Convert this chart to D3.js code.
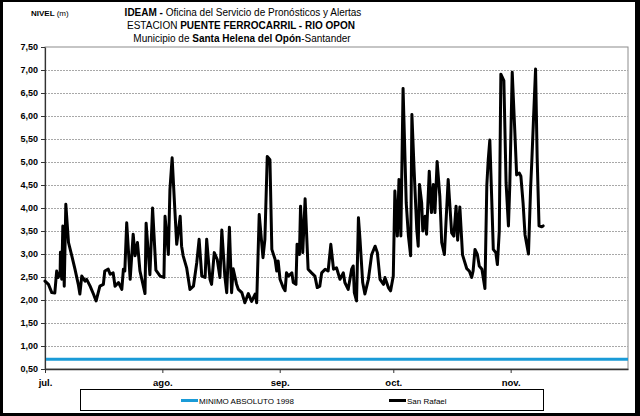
<!DOCTYPE html>
<html><head><meta charset="utf-8">
<script src="https://cdn.jsdelivr.net/npm/d3@7"></script>
<style>
html,body{margin:0;padding:0;background:#fff;}
svg{display:block;font-family:"Liberation Sans",Arial,sans-serif;}
</style></head>
<body><svg id="c" width="640" height="416"></svg>
<script>
// ---- data ----
const startDate = "2011-07-01";
const dayOffsets = [0,0.9,1.8,2.6,3.1,3.5,4.0,4.1,4.4,4.7,5.1,5.5,6.2,7.1,7.9,8.8,9.2,9.7,10.6,11.0,11.9,12.8,13.5,14.5,15.4,15.8,16.7,17.2,18.0,18.5,19.4,20.3,20.7,21.1,21.6,22.5,23.3,23.8,24.4,25.1,26.4,26.7,27.7,28.4,29.3,30.4,31.4,31.7,32.6,33.0,33.6,34.3,34.8,35.7,36.1,36.5,37.4,38.3,39.2,40.1,40.7,41.4,42.3,42.7,43.6,44.0,44.7,45.5,46.2,46.7,47.5,48.0,48.7,49.3,49.7,50.6,51.1,52.0,52.8,53.7,54.6,55.5,55.9,56.6,57.6,58.1,58.7,59.4,59.9,60.8,61.2,61.6,62.1,62.9,63.4,63.8,64.3,65.2,65.6,66.3,66.6,67.2,67.5,68.1,68.7,69.5,70.4,71.3,71.9,72.6,73.1,74.0,74.8,75.5,76.2,77.0,77.9,78.8,79.2,80.1,81.0,81.4,81.7,82.3,82.8,83.2,83.9,84.5,85.4,86.3,87.2,87.8,88.5,89.4,89.8,90.7,91.3,92.0,92.4,93.1,93.5,94.0,94.6,95.4,96.0,96.6,96.9,97.5,98.2,98.6,98.9,99.5,99.8,100.4,100.8,101.5,102.1,102.6,103.0,103.6,104.3,104.8,105.5,105.9,106.5,107.4,108.0,108.6,109.0,109.6,110.3,111.4,112.1,112.7,113.1,113.6,114.2,114.7,115.4,116.2,116.7,117.1,117.5,118.0,118.4,119.1,119.5,120.0,120.4,121.2,121.8,122.4,122.8,123.4,124.1,124.6,125.3,125.7,126.3,126.8,127.7,128.3,128.6,129.0,129.6,130.0,130.5,131.2,131.6];
const sanRafael = [2.41,2.34,2.16,2.15,2.63,2.49,2.60,3.04,2.45,3.61,2.30,4.08,3.25,2.96,2.67,2.34,2.13,2.52,2.41,2.45,2.30,2.13,1.98,2.30,2.34,2.63,2.67,2.56,2.59,2.30,2.38,2.23,2.67,2.63,3.68,2.45,3.43,2.96,3.25,2.63,2.14,3.67,2.55,4.00,2.65,2.52,2.49,3.82,2.99,4.40,5.09,3.97,3.21,3.82,3.17,2.96,2.70,2.23,2.30,2.81,3.32,2.52,2.49,3.32,2.45,2.34,3.03,2.88,2.49,3.52,2.52,2.16,3.58,2.16,2.68,2.35,2.23,2.16,1.94,2.14,1.97,2.13,1.94,3.86,2.92,3.32,5.12,5.05,3.10,2.88,2.63,2.85,2.45,2.27,2.20,2.59,2.52,2.59,2.38,2.34,3.21,2.99,4.04,3.03,4.20,2.67,2.59,2.52,2.27,2.30,2.59,2.67,2.63,3.21,2.67,2.70,2.45,2.59,2.38,2.23,2.67,2.74,2.16,1.98,3.79,3.32,2.38,2.13,2.45,2.99,3.17,3.03,2.45,2.34,2.49,2.27,2.20,2.52,4.37,3.39,4.62,3.39,6.60,4.11,3.39,2.96,6.03,4.83,3.53,3.17,4.51,4.11,3.50,3.82,3.43,4.80,3.90,4.51,3.90,5.01,4.26,3.25,2.99,3.68,4.62,3.46,3.39,4.04,3.30,4.02,2.98,2.68,2.63,2.49,2.63,3.10,2.99,2.74,2.67,2.25,4.50,5.05,5.48,4.20,3.10,3.03,2.77,3.50,6.91,6.77,4.55,3.61,4.54,6.95,5.70,4.72,4.76,4.69,4.10,3.42,3.00,4.47,5.00,5.85,7.02,5.10,3.61,3.59,3.61];
const minimoAbsoluto1998 = 0.71;
const yTicks = [0.5,1,1.5,2,2.5,3,3.5,4,4.5,5,5.5,6,6.5,7,7.5];
const monthTicks = ["2011-07-01","2011-08-01","2011-09-01","2011-10-01","2011-11-01"];
const monthLabels = ["jul.","ago.","sep.","oct.","nov."];
const domainEnd = "2011-12-02";
const legendNames = ["MINIMO ABSOLUTO 1998","San Rafael"];
const colors = {minimo:"#1a9bd7", sanRafael:"#000000"};

// ---- chart ----
const svg = d3.select("#c");
const W = 640, H = 416;
const plot = {left:45, right:628, top:47, bottom:369};
const parse = d3.timeParse("%Y-%m-%d");
const t0 = parse(startDate);
const x = d3.scaleTime().domain([t0, parse(domainEnd)]).range([plot.left, plot.right]);
const y = d3.scaleLinear().domain([0.5, 7.5]).range([plot.bottom, plot.top]);
const loc = d3.formatLocale({decimal:",", thousands:".", grouping:[3], currency:["$",""]});
const fmt = loc.format(".2f");

// outer frame
svg.append("rect").attr("x",0).attr("y",0).attr("width",W).attr("height",H).attr("fill","#000");
svg.append("rect").attr("x",3).attr("y",2).attr("width",W-8).attr("height",H-5).attr("fill","#fff");

// plot area border
svg.append("rect").attr("x",plot.left).attr("y",plot.top)
  .attr("width",plot.right-plot.left).attr("height",plot.bottom-plot.top)
  .attr("fill","none").attr("stroke","#8c8c8c").attr("stroke-width",1);

// gridlines
svg.append("g").selectAll("line").data(yTicks.filter(v=>v>0.5 && v<7.5)).join("line")
  .attr("x1",plot.left).attr("x2",plot.right)
  .attr("y1",d=>Math.round(y(d))+0.5).attr("y2",d=>Math.round(y(d))+0.5)
  .attr("stroke","#a8a8a8").attr("stroke-width",1).attr("stroke-dasharray","2,1");

// y axis
const gy = svg.append("g").attr("transform",`translate(${plot.left},0)`)
  .call(d3.axisLeft(y).tickValues(yTicks).tickFormat(fmt).tickSize(4).tickSizeOuter(0).tickPadding(3));
gy.select(".domain").attr("stroke","#333").attr("stroke-width",1.2);
gy.selectAll(".tick line").attr("stroke","#333");
gy.selectAll("text").attr("font-size",9).attr("font-weight","bold").attr("fill","#000")
  .attr("font-family","Liberation Sans, Arial, sans-serif");

// x axis
const tickDates = monthTicks.map(parse);
const gx = svg.append("g").attr("transform",`translate(0,${plot.bottom})`)
  .call(d3.axisBottom(x).tickValues(tickDates).tickFormat((d,i)=>monthLabels[i]).tickSize(4).tickSizeOuter(0).tickPadding(6));
gx.select(".domain").attr("stroke","#333").attr("stroke-width",1.5);
gx.selectAll(".tick line").attr("stroke","#333");
gx.selectAll("text").attr("font-size",9.5).attr("font-weight","bold").attr("fill","#000")
  .attr("font-family","Liberation Sans, Arial, sans-serif");

// minimo absoluto line
svg.append("line").attr("x1",plot.left+1).attr("x2",plot.right)
  .attr("y1",y(minimoAbsoluto1998)).attr("y2",y(minimoAbsoluto1998))
  .attr("stroke",colors.minimo).attr("stroke-width",3);

// San Rafael series
const series = dayOffsets.map((d,i)=>({date:d3.timeHour.offset(t0, Math.round(d*24)), v:sanRafael[i]}));
svg.append("path").datum(series)
  .attr("fill","none").attr("stroke",colors.sanRafael).attr("stroke-width",3)
  .attr("stroke-linejoin","round").attr("stroke-linecap","round")
  .attr("d", d3.line().x(d=>x(d.date)).y(d=>y(d.v)));

// titles
const title = svg.append("g").attr("font-size",10).attr("text-anchor","middle").attr("fill","#000");
const t1 = title.append("text").attr("x",243).attr("y",16);
t1.append("tspan").attr("font-weight","bold").text("IDEAM - ");
t1.append("tspan").text("Oficina del Servicio de Pronósticos y Alertas");
const t2 = title.append("text").attr("x",241).attr("y",29);
t2.append("tspan").text("ESTACION ");
t2.append("tspan").attr("font-weight","bold").text("PUENTE FERROCARRIL - RIO OPON");
const t3 = title.append("text").attr("x",242).attr("y",41.5);
t3.append("tspan").text("Municipio de ");
t3.append("tspan").attr("font-weight","bold").text("Santa Helena del Opón");
t3.append("tspan").text("-Santander");

const yl = svg.append("text").attr("x",31).attr("y",15.5).attr("font-size",8);
yl.append("tspan").attr("font-weight","bold").text("NIVEL ");
yl.append("tspan").text("(m)");

// legend
const lg = svg.append("g");
lg.append("rect").attr("x",80.5).attr("y",389.5).attr("width",463).attr("height",21)
  .attr("fill","#fff").attr("stroke","#000").attr("stroke-width",1);
const items = [{name:legendNames[0], color:colors.minimo, x:181},{name:legendNames[1], color:colors.sanRafael, x:389}];
items.forEach(it=>{
  lg.append("line").attr("x1",it.x).attr("x2",it.x+17).attr("y1",400.5).attr("y2",400.5)
    .attr("stroke",it.color).attr("stroke-width",3);
  lg.append("text").attr("x",it.x+18).attr("y",403.5).attr("font-size",8).attr("fill","#000").text(it.name);
});
</script></body></html>
